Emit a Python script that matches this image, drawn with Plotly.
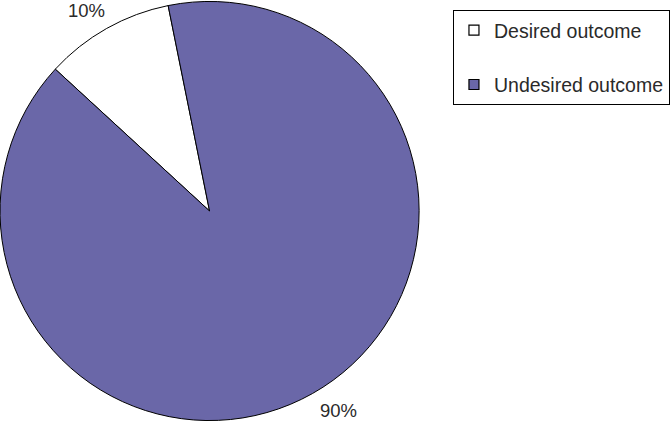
import plotly.graph_objects as go

labels = ["Desired outcome", "Undesired outcome"]
values = [10, 90]
colors = ["#FFFFFF", "#6A67A8"]

FONT = "Liberation Sans, Arial, sans-serif"

fig = go.Figure()
fig.add_trace(go.Pie(
    labels=labels,
    values=values,
    sort=False,
    direction="counterclockwise",
    rotation=-47.4,
    marker=dict(colors=colors, line=dict(color="#000000", width=1)),
    textinfo="none",
    showlegend=False,
    domain=dict(x=[0, 421 / 670], y=[0, 1]),
))

# legend entries (separate groups so the spacing can match)
for i, (lab, col) in enumerate(zip(labels, colors)):
    fig.add_trace(go.Scatter(
        x=[None], y=[None], mode="markers", name=lab,
        legendgroup=f"g{i}",
        marker=dict(symbol="square", size=10, color=col,
                    line=dict(color="#000000", width=1.2)),
    ))

# percentage labels
total = sum(values)
pct_pos = [(87 / 670, 1 - 10 / 422), (340 / 670, 1 - 411 / 422)]
for v, (px_, py_) in zip(values, pct_pos):
    fig.add_annotation(x=px_, y=py_, xref="paper", yref="paper",
                       xanchor="center", yanchor="middle",
                       text=f"{round(100 * v / total)}%", showarrow=False,
                       font=dict(family=FONT, size=18.5, color="#2A2A2A"))

fig.update_layout(
    width=670, height=422,
    margin=dict(l=0, r=0, t=1, b=1),
    paper_bgcolor="#FFFFFF",
    plot_bgcolor="#FFFFFF",
    font=dict(family=FONT, size=18, color="#2A2A2A"),
    xaxis=dict(visible=False),
    yaxis=dict(visible=False),
    legend=dict(
        x=455 / 670, xanchor="left", y=1 - 9 / 422, yanchor="top",
        bordercolor="#000000", borderwidth=1,
        tracegroupgap=26,
        font=dict(family=FONT, size=19.5, color="#2A2A2A"),
    ),
)

fig.write_html("out.html", config={"displayModeBar": False},
               post_script="document.body.style.margin='0';")
